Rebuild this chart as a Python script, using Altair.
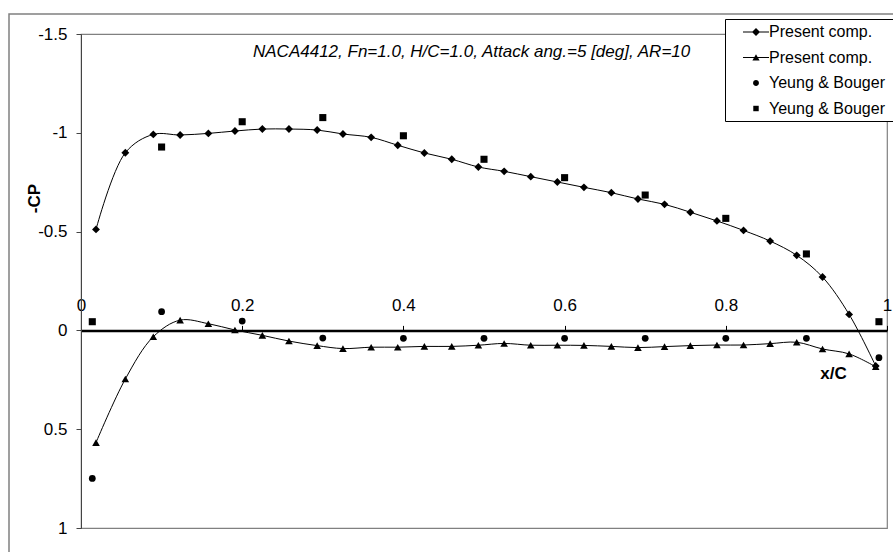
import altair as alt
import pandas as pd

# ---------------- data ----------------
x_comp = [0.0186, 0.055, 0.0897, 0.123, 0.158, 0.191, 0.225, 0.258, 0.293, 0.325,
          0.360, 0.393, 0.426, 0.460, 0.493, 0.525, 0.558, 0.591, 0.624, 0.658,
          0.691, 0.724, 0.756, 0.789, 0.822, 0.855, 0.888, 0.920, 0.953, 0.986]
cp_upper = [-0.511, -0.899, -0.992, -0.989, -0.997, -1.009, -1.019, -1.019, -1.014, -0.994,
            -0.977, -0.937, -0.898, -0.866, -0.827, -0.805, -0.778, -0.751, -0.724, -0.697,
            -0.665, -0.638, -0.598, -0.554, -0.506, -0.452, -0.380, -0.270, -0.081, 0.180]
cp_lower = [0.568, 0.246, 0.032, -0.052, -0.034, -0.002, 0.025, 0.054, 0.077, 0.092,
            0.085, 0.085, 0.081, 0.081, 0.075, 0.066, 0.075, 0.075, 0.076, 0.081,
            0.087, 0.082, 0.077, 0.074, 0.074, 0.067, 0.060, 0.094, 0.119, 0.184]
x_exp = [0.014, 0.1, 0.2, 0.3, 0.4, 0.5, 0.6, 0.7, 0.8, 0.9, 0.99]
cp_exp_lower = [0.749, -0.095, -0.047, 0.039, 0.040, 0.040, 0.040, 0.040, 0.040, 0.040, 0.138]
cp_exp_upper = [-0.044, -0.928, -1.056, -1.077, -0.985, -0.866, -0.773, -0.685, -0.567, -0.387, -0.044]

x_ticks = [0, 0.2, 0.4, 0.6, 0.8, 1]
y_ticks = [-1.5, -1, -0.5, 0, 0.5, 1]
X_DOMAIN = [0.0, 1.0]
Y_DOMAIN = [-1.5, 1.0]

legend_keys = ["Present comp.|u", "Present comp.|l", "Yeung & Bouger|c", "Yeung & Bouger|s"]
legend_paths = [
    "M-1.625,-0.06L1.625,-0.06L1.625,0.06L-1.625,0.06Z M0,-0.5L0.5,0L0,0.5L-0.5,0Z",
    "M-1.625,-0.06L1.625,-0.06L1.625,0.06L-1.625,0.06Z M0,-0.42L0.45,0.36L-0.45,0.36Z",
    "M-0.37,0A0.37,0.37 0 1,0 0.37,0A0.37,0.37 0 1,0 -0.37,0Z",
    "M-0.34,-0.34L0.34,-0.34L0.34,0.34L-0.34,0.34Z",
]
title_text = "NACA4412, Fn=1.0, H/C=1.0, Attack ang.=5 [deg], AR=10"

FONT = "Liberation Sans, Arial, sans-serif"
W, H = 806, 494
zero_px = H * (0 - Y_DOMAIN[0]) / (Y_DOMAIN[1] - Y_DOMAIN[0])

df_up = pd.DataFrame({"x": x_comp, "cp": cp_upper})
df_lo = pd.DataFrame({"x": x_comp, "cp": cp_lower})
df_ec = pd.DataFrame({"x": x_exp, "cp": cp_exp_lower})
df_es = pd.DataFrame({"x": x_exp, "cp": cp_exp_upper})

x_enc = alt.X(
    "x:Q",
    scale=alt.Scale(domain=X_DOMAIN, nice=False, zero=False),
    axis=alt.Axis(
        orient="top", offset=-zero_px, values=x_ticks, format=".1~f",
        labelFlush=False, grid=False, domainColor="black", domainWidth=2.5,
        tickColor="black", tickSize=5, tickWidth=1, labelPadding=11,
        labelFontSize=17, labelFont=FONT, labelColor="black",
        title="x/C", titleX=752, titleY=43, titleAlign="center", titleBaseline="middle",
        titleFontSize=17, titleFont=FONT, titleFontWeight="bold", titleColor="black",
    ),
)
y_enc = alt.Y(
    "cp:Q",
    scale=alt.Scale(domain=Y_DOMAIN, nice=False, zero=False, reverse=True),
    axis=alt.Axis(
        values=y_ticks, labelExpr="'' + datum.value", grid=False,
        domainColor="#444", domainWidth=1, tickColor="#444", tickSize=5,
        labelPadding=9, labelFontSize=17, labelFont=FONT, labelColor="black",
        title="-CP", titleAngle=270, titleX=-47, titleY=164, titleAlign="center",
        titleBaseline="middle", titleFontSize=17, titleFont=FONT,
        titleFontWeight="bold", titleColor="black",
    ),
)

frame = alt.Chart(pd.DataFrame({"k": [0]})).mark_rect(
    fill="transparent", stroke="#808080", strokeWidth=1.5
).encode(x=alt.value(-72), x2=alt.value(W + 100), y=alt.value(-20), y2=alt.value(H + 100))

line_up = alt.Chart(df_up).mark_line(interpolate="catmull-rom", color="black", strokeWidth=1).encode(x=x_enc, y=y_enc)
line_lo = alt.Chart(df_lo).mark_line(interpolate="catmull-rom", color="black", strokeWidth=1).encode(x=x_enc, y=y_enc)
pt_up = alt.Chart(df_up).mark_point(shape="diamond", filled=True, color="black", size=62, opacity=1).encode(x=x_enc, y=y_enc)
pt_lo = alt.Chart(df_lo).mark_point(shape="triangle-up", filled=True, color="black", size=58, opacity=1).encode(x=x_enc, y=y_enc)
pt_ec = alt.Chart(df_ec).mark_point(shape="circle", filled=True, color="black", size=46, opacity=1).encode(x=x_enc, y=y_enc)
pt_es = alt.Chart(df_es).mark_point(shape="square", filled=True, color="black", size=50, opacity=1).encode(x=x_enc, y=y_enc)

legend_layer = alt.Chart(pd.DataFrame({"series": legend_keys})).mark_point(
    filled=True, color="black", opacity=0
).encode(
    shape=alt.Shape(
        "series:N",
        scale=alt.Scale(domain=legend_keys, range=legend_paths),
        legend=alt.Legend(
            title=None, orient="none", legendX=644, legendY=-15,
            labelExpr="split(datum.label, '|')[0] + '\u00a0\u00a0\u00a0\u00a0\u00a0\u00a0\u200b'",
            labelLimit=300,
            symbolSize=256, symbolFillColor="black", symbolOpacity=1, symbolOffset=18,
            labelFontSize=16, labelFont=FONT, labelColor="black", labelOffset=4,
            padding=4, rowPadding=8.5, strokeColor="black", fillColor="white",
            cornerRadius=0,
        ),
    )
)

chart = alt.layer(frame, line_up, line_lo, pt_up, pt_lo, pt_ec, pt_es, legend_layer).properties(
    width=W, height=H,
    title=alt.TitleParams(
        text=title_text, anchor="start", frame="group", dx=172, dy=48, offset=0,
        fontSize=17, font=FONT, fontStyle="italic", fontWeight="normal", color="black",
    ),
    autosize=alt.AutoSizeParams(type="none"),
    padding={"left": 81, "top": 34, "right": 6, "bottom": 24},
    background="white",
).configure_view(stroke="#808080", strokeWidth=1.2)

chart.save("out.html", embed_options={"renderer": "svg", "actions": False})
